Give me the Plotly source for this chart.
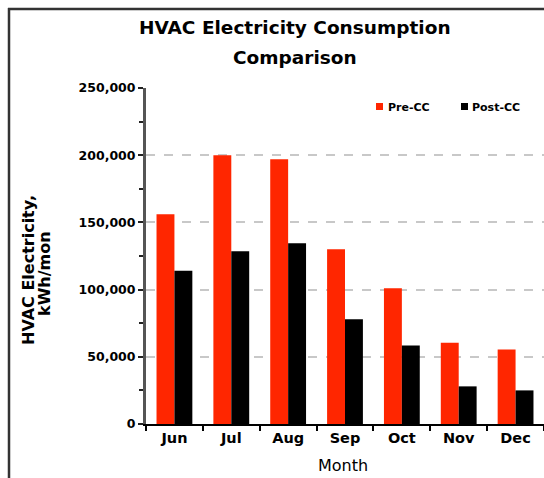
import plotly.graph_objects as go

months = ["Jun", "Jul", "Aug", "Sep", "Oct", "Nov", "Dec"]
pre_cc = [156000, 200000, 197000, 130000, 101000, 60500, 55500]
post_cc = [114000, 128500, 134500, 78000, 58500, 28000, 25000]
y_ticks = [0, 50000, 100000, 150000, 200000, 250000]
series_names = ["Pre-CC", "Post-CC"]
series_colors = ["#ff2600", "#000000"]

W, H = 544, 478
L, R, T, B = 146, 0, 88, 54
pw = W - L - R
ph = H - T - B

def px_x(x):
    return (x - L) / pw

def px_y(y):
    return (H - B - y) / ph

FONT = "DejaVu Sans"

fig = go.Figure()
for name, vals, col in zip(series_names, [pre_cc, post_cc], series_colors):
    fig.add_trace(go.Bar(name=name, x=months, y=vals, marker_color=col, marker_line_width=0))

# manual compact legend (key squares + labels)
legend_pos = [(376, 386), (461, 470)]
shapes = []
annotations = []
for (sx, tx), name, col in zip(legend_pos, series_names, series_colors):
    shapes.append(dict(type="rect", xref="paper", yref="paper",
                       x0=px_x(sx), x1=px_x(sx + 7), y0=px_y(103), y1=px_y(110),
                       fillcolor=col, line=dict(width=0)))
    annotations.append(dict(text=name, xref="paper", yref="paper", x=px_x(tx), y=px_y(107),
                            showarrow=False, xanchor="left", yanchor="middle",
                            font=dict(size=11, family=FONT, weight="bold")))

annotations += [
    dict(text="HVAC Electricity Consumption", xref="paper", yref="paper",
         x=px_x(295), y=px_y(28), showarrow=False, xanchor="center", yanchor="middle",
         font=dict(size=18.5, family=FONT, weight="bold")),
    dict(text="Comparison", xref="paper", yref="paper",
         x=px_x(295), y=px_y(57), showarrow=False, xanchor="center", yanchor="middle",
         font=dict(size=18.5, family=FONT, weight="bold")),
    dict(text="HVAC Electricity,", xref="paper", yref="paper",
         x=px_x(28), y=px_y(270), showarrow=False, xanchor="center", yanchor="middle",
         textangle=-90, font=dict(size=16, family=FONT, weight="bold")),
    dict(text="kWh/mon", xref="paper", yref="paper",
         x=px_x(44), y=px_y(274), showarrow=False, xanchor="center", yanchor="middle",
         textangle=-90, font=dict(size=16, family=FONT, weight="bold")),
    dict(text="Month", xref="paper", yref="paper",
         x=px_x(343), y=px_y(465), showarrow=False, xanchor="center", yanchor="middle",
         font=dict(size=16, family=FONT, weight=500)),
]

shapes += [
    dict(type="line", xref="paper", yref="paper", x0=px_x(9), x1=px_x(9), y0=px_y(8), y1=px_y(478),
         line=dict(color="#333", width=2.5)),
    dict(type="line", xref="paper", yref="paper", x0=px_x(8), x1=px_x(544), y0=px_y(9), y1=px_y(9),
         line=dict(color="#333", width=2.5)),
]

fig.update_layout(
    width=W, height=H,
    margin=dict(l=L, r=R, t=T, b=B),
    paper_bgcolor="white", plot_bgcolor="white",
    barmode="group", bargap=0.37, bargroupgap=0,
    font=dict(family=FONT, color="#000"),
    showlegend=False,
    xaxis=dict(
        type="category", showline=True, linecolor="#000", linewidth=2,
        ticks="outside", tickson="boundaries", ticklen=5, tickcolor="#000", tickwidth=2,
        tickfont=dict(size=14.5, family=FONT, weight="bold"),
        showgrid=False,
    ),
    yaxis=dict(
        range=[0, 250000], tickvals=y_ticks, tickformat=",d",
        showline=True, linecolor="#555", linewidth=3,
        ticks="outside", ticklen=5, tickcolor="#222", tickwidth=2,
        tickfont=dict(size=12.5, family=FONT, weight="bold"),
        showgrid=True, gridcolor="#c8c8c8", gridwidth=2, griddash="dash",
        minor=dict(dtick=25000, ticks="outside", ticklen=4, tickcolor="#222", tickwidth=2, showgrid=False),
        zeroline=False,
    ),
    annotations=annotations,
    shapes=shapes,
)

fig.write_html("out.html", config={"displayModeBar": False},
               post_script="document.body.style.margin='0';document.body.style.padding='0';")
